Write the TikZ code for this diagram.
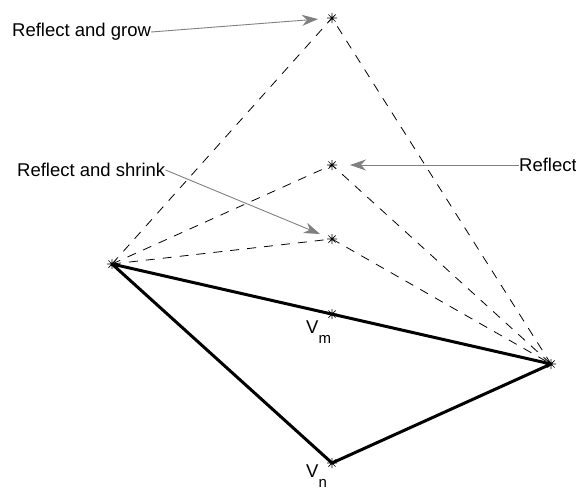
\documentclass[tikz,border=0pt]{standalone}
\usepackage{fontspec}
\setmainfont{Liberation Sans}
\usetikzlibrary{arrows.meta}
\tikzset{
  astk/.pic={\draw[line width=0.7pt] (-5,0)--(5,0) (0,-5)--(0,5) (-3.6,-3.6)--(3.6,3.6) (-3.6,3.6)--(3.6,-3.6);},
  trial/.style={line width=0.8pt,dash pattern=on 9pt off 8pt},
  callout/.style={draw=gray,line width=0.9pt,-{Stealth[length=16pt,width=11pt,inset=5pt]}},
  lbl/.style={inner sep=0pt,anchor=west}
}

\begin{document}
\begin{tikzpicture}[x=1pt,y=-1pt,font=\fontsize{18.5}{20}\selectfont]
\useasboundingbox (0,0) rectangle (576,488);
% simplex and trial points
\coordinate (A) at (112,264);
\coordinate (B) at (551,364);
\coordinate (Vn) at (332,463);
\coordinate (Vm) at (332,314);
\coordinate (R) at (332,165);
\coordinate (S) at (332,239);
\coordinate (G) at (332,18);
\foreach \p in {G,R,S} \draw[trial] (A) -- (\p) -- (B);
\draw[line width=3pt,line join=round] (A) -- (B) -- (Vn) -- cycle;
\foreach \p in {A,B,Vn,Vm,R,S,G} \pic at (\p) {astk};
% labels
\node[lbl] (tgrow) at (12,32) {Reflect and grow};
\node[lbl] (tshrink) at (17,170) {Reflect and shrink};
\node[lbl] (trefl) at (519,165) {Reflect};
\node[anchor=base west,inner sep=0pt] (lvm) at (306,333) {V\raisebox{-10pt}{\fontsize{15}{15}\selectfont m}};
\node[anchor=base west,inner sep=0pt] (lvn) at (306,477) {V\raisebox{-10pt}{\fontsize{15}{15}\selectfont n}};
\draw[callout,shorten >=14pt] (tgrow.east) -- (G);
\draw[callout,shorten >=13pt] (tshrink.east) -- (S);
\draw[callout,shorten >=18pt] (trefl.west) -- (R);
\end{tikzpicture}
\end{document}
